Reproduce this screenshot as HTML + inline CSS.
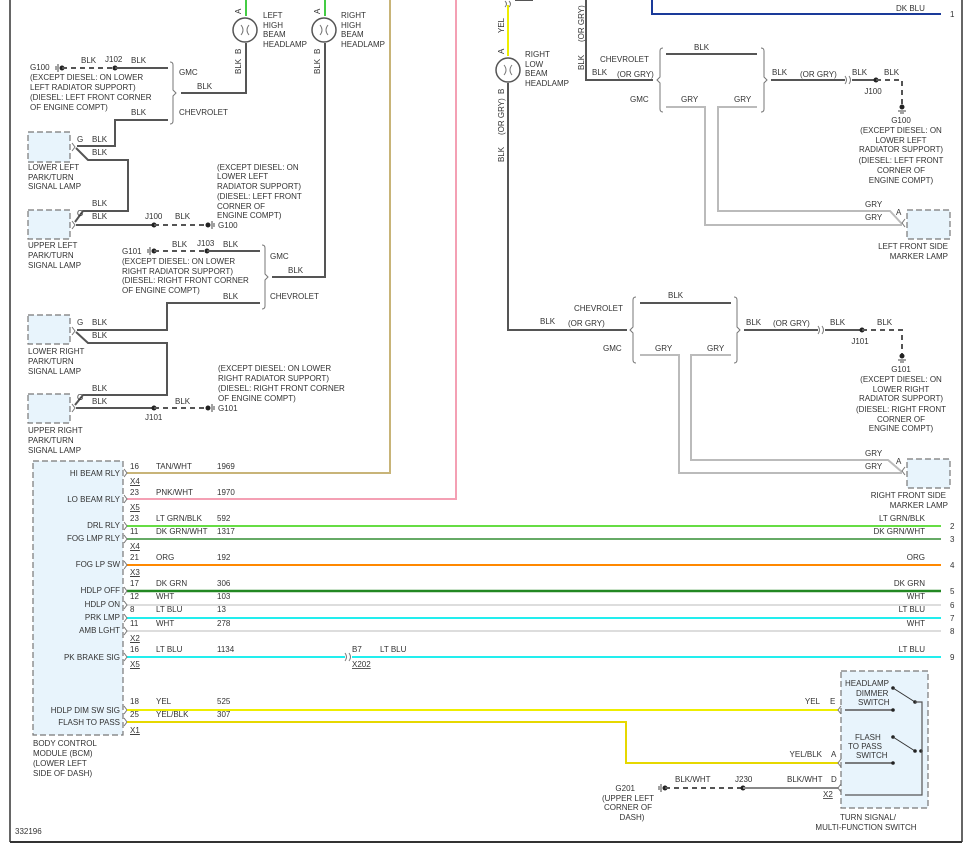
<!DOCTYPE html>
<html><head><meta charset="utf-8"><style>
html,body{margin:0;padding:0;background:#fff;}
svg{display:block;}
text{font-family:"Liberation Sans",sans-serif;font-size:8px;fill:#333;}
.w{fill:none;stroke:#555;stroke-width:2;}
.d{fill:none;stroke:#555;stroke-width:2;stroke-dasharray:5,4;}
.g{fill:none;stroke:#bbb;stroke-width:2;}
.b{fill:none;stroke:#777;stroke-width:1;}
.box{fill:#e8f4fc;stroke:#777;stroke-width:1.2;stroke-dasharray:6,3;}
.r{text-anchor:end;}
.m{text-anchor:middle;}
</style></head><body>
<svg width="967" height="849" viewBox="0 0 967 849" xmlns="http://www.w3.org/2000/svg">
<defs>
<g id="gnd"><circle cx="0" cy="0" r="2.5" fill="#222"/><line x1="-4" y1="-4" x2="-4" y2="4" stroke="#444"/><line x1="-6" y1="-2" x2="-6" y2="2" stroke="#444"/></g>
<g id="gndv"><circle cx="0" cy="0" r="2.5" fill="#222"/><line x1="-4" y1="4" x2="4" y2="4" stroke="#444"/><line x1="-2" y1="6" x2="2" y2="6" stroke="#444"/></g>
</defs>
<!-- frame -->
<line x1="10" y1="0" x2="10" y2="842" stroke="#333" stroke-width="1.5"/>
<line x1="962" y1="0" x2="962" y2="842" stroke="#333" stroke-width="1.5"/>
<line x1="10" y1="842" x2="962" y2="842" stroke="#333" stroke-width="2"/>

<!-- headlamps top left -->
<line x1="246" y1="0" x2="246" y2="16" stroke="#44cc44" stroke-width="2"/>
<line x1="325" y1="0" x2="325" y2="16" stroke="#44cc44" stroke-width="2"/>
<circle cx="245" cy="30" r="12" fill="#fff" stroke="#555" stroke-width="1.5"/>
<circle cx="324" cy="30" r="12" fill="#fff" stroke="#555" stroke-width="1.5"/>
<path d="M241,25 q4,5 0,10 M249,25 q-4,5 0,10" class="b"/>
<path d="M320,25 q4,5 0,10 M328,25 q-4,5 0,10" class="b"/>
<text x="241" y="14" transform="rotate(-90 241 14)">A</text>
<text x="320" y="14" transform="rotate(-90 320 14)">A</text>
<text x="241" y="54" transform="rotate(-90 241 54)">B</text>
<text x="320" y="54" transform="rotate(-90 320 54)">B</text>
<text x="241" y="74" transform="rotate(-90 241 74)">BLK</text>
<text x="320" y="74" transform="rotate(-90 320 74)">BLK</text>
<text x="263" y="18">LEFT</text><text x="263" y="28">HIGH</text><text x="263" y="37">BEAM</text><text x="263" y="47">HEADLAMP</text>
<text x="341" y="18">RIGHT</text><text x="341" y="28">HIGH</text><text x="341" y="37">BEAM</text><text x="341" y="47">HEADLAMP</text>
<polyline class="w" points="246,43 246,93 181,93"/>
<polyline class="w" points="325,43 325,277 272,277"/>
<text x="197" y="89">BLK</text><text x="288" y="273">BLK</text>

<!-- G100/J102 -->
<text x="30" y="70">G100</text>
<use href="#gnd" x="62" y="68"/>
<line class="d" x1="62" y1="68" x2="115" y2="68"/>
<circle cx="115" cy="68" r="2.5" fill="#222"/>
<line class="w" x1="115" y1="68" x2="168" y2="68"/>
<text x="81" y="63">BLK</text><text x="105" y="62">J102</text><text x="131" y="63">BLK</text>
<text x="30" y="80">(EXCEPT DIESEL: ON LOWER</text><text x="30" y="90">LEFT RADIATOR SUPPORT)</text><text x="30" y="100">(DIESEL: LEFT FRONT CORNER</text><text x="30" y="110">OF ENGINE COMPT)</text>
<path class="b" d="M170,62 q3,0 3,3 v25 l3,3 l-3,3 v25 q0,3 -3,3"/>
<text x="179" y="75">GMC</text><text x="179" y="115">CHEVROLET</text>
<text x="131" y="115">BLK</text>
<polyline class="w" points="168,120 115,120 115,146 77,146"/>

<!-- lower left lamp -->
<rect class="box" x="28" y="132" width="42" height="30"/>
<text x="77" y="142">G</text><text x="92" y="142">BLK</text><text x="92" y="155">BLK</text>
<path class="b" d="M72,143 l3,4 l-3,4"/>
<polyline class="w" points="76,148 88,160 128,160 128,211 83,211 75,222"/>
<text x="28" y="170">LOWER LEFT</text><text x="28" y="180">PARK/TURN</text><text x="28" y="189">SIGNAL LAMP</text>
<rect class="box" x="28" y="210" width="42" height="29"/>
<text x="77" y="216">G</text><text x="92" y="206">BLK</text><text x="92" y="219">BLK</text>
<path class="b" d="M72,221 l3,4 l-3,4"/>
<line class="w" x1="76" y1="225" x2="154" y2="225"/>
<circle cx="154" cy="225" r="2.5" fill="#222"/>
<line class="d" x1="154" y1="225" x2="208" y2="225"/>
<use href="#gnd" x="208" y="225" transform="rotate(180 208 225)"/>
<text x="145" y="219">J100</text><text x="175" y="219">BLK</text><text x="218" y="228">G100</text>
<text x="217" y="170">(EXCEPT DIESEL: ON</text><text x="217" y="179">LOWER LEFT</text><text x="217" y="189">RADIATOR SUPPORT)</text><text x="217" y="199">(DIESEL: LEFT FRONT</text><text x="217" y="209">CORNER OF</text><text x="217" y="218">ENGINE COMPT)</text>
<text x="28" y="248">UPPER LEFT</text><text x="28" y="258">PARK/TURN</text><text x="28" y="268">SIGNAL LAMP</text>

<!-- G101/J103 -->
<text x="122" y="254">G101</text>
<use href="#gnd" x="154" y="251"/>
<line class="d" x1="154" y1="251" x2="207" y2="251"/>
<circle cx="207" cy="251" r="2.5" fill="#222"/>
<line class="w" x1="207" y1="251" x2="260" y2="251"/>
<text x="172" y="247">BLK</text><text x="197" y="246">J103</text><text x="223" y="247">BLK</text>
<text x="122" y="264">(EXCEPT DIESEL: ON LOWER</text><text x="122" y="274">RIGHT RADIATOR SUPPORT)</text><text x="122" y="283">(DIESEL: RIGHT FRONT CORNER</text><text x="122" y="293">OF ENGINE COMPT)</text>
<path class="b" d="M262,245 q3,0 3,3 v26 l3,3 l-3,3 v26 q0,3 -3,3"/>
<text x="270" y="259">GMC</text><text x="270" y="299">CHEVROLET</text>
<text x="223" y="299">BLK</text>
<polyline class="w" points="260,303 167,303 167,330 77,330"/>
<rect class="box" x="28" y="315" width="42" height="29"/>
<text x="77" y="325">G</text><text x="92" y="325">BLK</text><text x="92" y="338">BLK</text>
<path class="b" d="M72,327 l3,4 l-3,4"/>
<polyline class="w" points="76,332 88,343 167,343 167,395 83,395 75,405"/>
<text x="28" y="354">LOWER RIGHT</text><text x="28" y="364">PARK/TURN</text><text x="28" y="374">SIGNAL LAMP</text>
<rect class="box" x="28" y="394" width="42" height="29"/>
<text x="77" y="400">G</text><text x="92" y="391">BLK</text><text x="92" y="404">BLK</text>
<path class="b" d="M72,404 l3,4 l-3,4"/>
<line class="w" x1="76" y1="408" x2="154" y2="408"/>
<circle cx="154" cy="408" r="2.5" fill="#222"/>
<line class="d" x1="154" y1="408" x2="208" y2="408"/>
<use href="#gnd" x="208" y="408" transform="rotate(180 208 408)"/>
<text x="175" y="404">BLK</text><text x="145" y="420">J101</text><text x="218" y="411">G101</text>
<text x="218" y="371">(EXCEPT DIESEL: ON LOWER</text><text x="218" y="381">RIGHT RADIATOR SUPPORT)</text><text x="218" y="391">(DIESEL: RIGHT FRONT CORNER</text><text x="218" y="401">OF ENGINE COMPT)</text>
<text x="28" y="433">UPPER RIGHT</text><text x="28" y="443">PARK/TURN</text><text x="28" y="453">SIGNAL LAMP</text>

<!-- right section -->
<line x1="508" y1="5" x2="508" y2="56" stroke="#eeee00" stroke-width="2"/>
<path class="b" d="M505,1 q3,3 0,6 M509,1 q3,3 0,6"/>
<line x1="515" y1="0" x2="533" y2="0" stroke="#555" stroke-width="2"/>
<text x="504" y="33" transform="rotate(-90 504 33)">YEL</text>
<text x="504" y="54" transform="rotate(-90 504 54)">A</text>
<circle cx="508" cy="70" r="12" fill="#fff" stroke="#555" stroke-width="1.5"/>
<path d="M504,65 q4,5 0,10 M512,65 q-4,5 0,10" class="b"/>
<text x="525" y="57">RIGHT</text><text x="525" y="67">LOW</text><text x="525" y="76">BEAM</text><text x="525" y="86">HEADLAMP</text>
<text x="504" y="94" transform="rotate(-90 504 94)">B</text>
<text x="504" y="135" transform="rotate(-90 504 135)">(OR GRY)</text>
<text x="504" y="162" transform="rotate(-90 504 162)">BLK</text>
<polyline class="w" points="508,83 508,330 627,330"/>
<text x="584" y="42" transform="rotate(-90 584 42)">(OR GRY)</text>
<text x="584" y="70" transform="rotate(-90 584 70)">BLK</text>
<polyline class="w" points="586,0 586,80 653,80"/>
<polyline points="652,0 652,14 941,14" fill="none" stroke="#1a3a99" stroke-width="2"/>
<text x="896" y="11">DK BLU</text><text x="950" y="17">1</text>
<text x="600" y="62">CHEVROLET</text><text x="592" y="75">BLK</text><text x="617" y="77">(OR GRY)</text><text x="630" y="102">GMC</text>
<path class="b" d="M663,48 q-3,0 -3,3 v26 l-3,3 l3,3 v26 q0,3 3,3"/>
<path class="b" d="M761,48 q3,0 3,3 v26 l3,3 l-3,3 v26 q0,3 -3,3"/>
<line class="w" x1="666" y1="54" x2="757" y2="54"/>
<text x="694" y="50">BLK</text><text x="681" y="102">GRY</text><text x="734" y="102">GRY</text>
<polyline class="g" points="666,107 705,107 705,225 902,225"/>
<polyline class="g" points="757,107 718,107 718,211 890,211 902,224"/>
<line class="w" x1="771" y1="80" x2="845" y2="80"/>
<path class="b" d="M845,76 q3,4 0,8 M849,76 q3,4 0,8"/>
<line class="w" x1="852" y1="80" x2="876" y2="80"/>
<circle cx="876" cy="80" r="2.5" fill="#222"/>
<polyline class="d" points="876,80 902,80 902,107"/>
<use href="#gndv" x="902" y="107"/>
<text x="772" y="75">BLK</text><text x="800" y="77">(OR GRY)</text><text x="852" y="75">BLK</text><text x="884" y="75">BLK</text><text x="873" y="94" class="m">J100</text>
<g class="m"><text x="901" y="123" class="m">G100</text><text x="901" y="133" class="m">(EXCEPT DIESEL: ON</text><text x="901" y="143" class="m">LOWER LEFT</text><text x="901" y="152" class="m">RADIATOR SUPPORT)</text><text x="901" y="163" class="m">(DIESEL: LEFT FRONT</text><text x="901" y="173" class="m">CORNER OF</text><text x="901" y="183" class="m">ENGINE COMPT)</text></g>
<text x="865" y="207">GRY</text><text x="865" y="220">GRY</text><text x="896" y="215">A</text>
<path class="b" d="M905,219 l-3,4 l3,4"/>
<rect class="box" x="907" y="210" width="43" height="29"/>
<text x="948" y="249" class="r">LEFT FRONT SIDE</text><text x="948" y="259" class="r">MARKER LAMP</text>

<text x="574" y="311">CHEVROLET</text><text x="540" y="324">BLK</text><text x="568" y="326">(OR GRY)</text><text x="603" y="351">GMC</text>
<path class="b" d="M636,297 q-3,0 -3,3 v27 l-3,3 l3,3 v27 q0,3 3,3"/>
<path class="b" d="M734,297 q3,0 3,3 v27 l3,3 l-3,3 v27 q0,3 -3,3"/>
<line class="w" x1="640" y1="303" x2="731" y2="303"/>
<text x="668" y="298">BLK</text><text x="655" y="351">GRY</text><text x="707" y="351">GRY</text>
<polyline class="g" points="640,355 679,355 679,473 902,473"/>
<polyline class="g" points="731,355 691,355 691,460 888,460 902,472"/>
<line class="w" x1="744" y1="330" x2="818" y2="330"/>
<path class="b" d="M818,326 q3,4 0,8 M822,326 q3,4 0,8"/>
<line class="w" x1="825" y1="330" x2="862" y2="330"/>
<circle cx="862" cy="330" r="2.5" fill="#222"/>
<polyline class="d" points="862,330 902,330 902,356"/>
<use href="#gndv" x="902" y="356"/>
<text x="746" y="325">BLK</text><text x="773" y="326">(OR GRY)</text><text x="830" y="325">BLK</text><text x="877" y="325">BLK</text><text x="860" y="344" class="m">J101</text>
<text x="901" y="372" class="m">G101</text><text x="901" y="382" class="m">(EXCEPT DIESEL: ON</text><text x="901" y="392" class="m">LOWER RIGHT</text><text x="901" y="401" class="m">RADIATOR SUPPORT)</text><text x="901" y="412" class="m">(DIESEL: RIGHT FRONT</text><text x="901" y="422" class="m">CORNER OF</text><text x="901" y="431" class="m">ENGINE COMPT)</text>
<text x="865" y="456">GRY</text><text x="865" y="469">GRY</text><text x="896" y="464">A</text>
<path class="b" d="M905,467 l-3,4 l3,4"/>
<rect class="box" x="907" y="459" width="43" height="29"/>
<text x="946" y="498" class="r">RIGHT FRONT SIDE</text><text x="948" y="508" class="r">MARKER LAMP</text>

<!-- vertical colored to BCM -->
<polyline points="390,0 390,473 127,473" fill="none" stroke="#c8b478" stroke-width="2"/>
<polyline points="456,0 456,499 127,499" fill="none" stroke="#f4a0b4" stroke-width="2"/>

<!-- BCM -->
<rect class="box" x="33" y="461" width="90" height="274"/>
<g class="r">
<text x="120" y="476" class="r">HI BEAM RLY</text><text x="120" y="502" class="r">LO BEAM RLY</text><text x="120" y="528" class="r">DRL RLY</text><text x="120" y="541" class="r">FOG LMP RLY</text><text x="120" y="567" class="r">FOG LP SW</text><text x="120" y="593" class="r">HDLP OFF</text><text x="120" y="607" class="r">HDLP ON</text><text x="120" y="620" class="r">PRK LMP</text><text x="120" y="633" class="r">AMB LGHT</text><text x="120" y="660" class="r">PK BRAKE SIG</text><text x="120" y="713" class="r">HDLP DIM SW SIG</text><text x="120" y="725" class="r">FLASH TO PASS</text>
</g>
<text x="33" y="746">BODY CONTROL</text><text x="33" y="756">MODULE (BCM)</text><text x="33" y="766">(LOWER LEFT</text><text x="33" y="776">SIDE OF DASH)</text>
<g text-decoration="underline"><text x="130" y="484" text-decoration="underline">X4</text><text x="130" y="510" text-decoration="underline">X5</text><text x="130" y="549" text-decoration="underline">X4</text><text x="130" y="575" text-decoration="underline">X3</text><text x="130" y="641" text-decoration="underline">X2</text><text x="130" y="667" text-decoration="underline">X5</text><text x="130" y="733" text-decoration="underline">X1</text></g>

<text x="130" y="469">16</text><text x="156" y="469">TAN/WHT</text><text x="217" y="469">1969</text>
<text x="130" y="495">23</text><text x="156" y="495">PNK/WHT</text><text x="217" y="495">1970</text>
<text x="130" y="521">23</text><text x="156" y="521">LT GRN/BLK</text><text x="217" y="521">592</text>
<text x="130" y="534">11</text><text x="156" y="534">DK GRN/WHT</text><text x="217" y="534">1317</text>
<text x="130" y="560">21</text><text x="156" y="560">ORG</text><text x="217" y="560">192</text>
<text x="130" y="586">17</text><text x="156" y="586">DK GRN</text><text x="217" y="586">306</text>
<text x="130" y="599">12</text><text x="156" y="599">WHT</text><text x="217" y="599">103</text>
<text x="130" y="612">8</text><text x="156" y="612">LT BLU</text><text x="217" y="612">13</text>
<text x="130" y="626">11</text><text x="156" y="626">WHT</text><text x="217" y="626">278</text>
<text x="130" y="652">16</text><text x="156" y="652">LT BLU</text><text x="217" y="652">1134</text>
<text x="130" y="704">18</text><text x="156" y="704">YEL</text><text x="217" y="704">525</text>
<text x="130" y="717">25</text><text x="156" y="717">YEL/BLK</text><text x="217" y="717">307</text>

<line x1="127" y1="526" x2="941" y2="526" stroke="#66dd44" stroke-width="2"/>
<line x1="127" y1="539" x2="941" y2="539" stroke="#66aa66" stroke-width="2"/>
<line x1="127" y1="565" x2="941" y2="565" stroke="#ff8800" stroke-width="2"/>
<line x1="127" y1="591" x2="941" y2="591" stroke="#228822" stroke-width="2.5"/>
<line x1="127" y1="605" x2="941" y2="605" stroke="#dddddd" stroke-width="2"/>
<line x1="127" y1="618" x2="941" y2="618" stroke="#22eeee" stroke-width="2"/>
<line x1="127" y1="631" x2="941" y2="631" stroke="#dddddd" stroke-width="2"/>
<line x1="127" y1="657" x2="345" y2="657" stroke="#22eeee" stroke-width="2"/>
<path class="b" d="M345,653 q3,4 0,8 M349,653 q3,4 0,8"/>
<line x1="352" y1="657" x2="941" y2="657" stroke="#22eeee" stroke-width="2"/>
<text x="352" y="652">B7</text><text x="380" y="652">LT BLU</text><text x="352" y="667" text-decoration="underline">X202</text>
<text x="925" y="521" class="r">LT GRN/BLK</text><text x="925" y="534" class="r">DK GRN/WHT</text><text x="925" y="560" class="r">ORG</text><text x="925" y="586" class="r">DK GRN</text><text x="925" y="599" class="r">WHT</text><text x="925" y="612" class="r">LT BLU</text><text x="925" y="626" class="r">WHT</text><text x="925" y="652" class="r">LT BLU</text>
<text x="950" y="529">2</text><text x="950" y="542">3</text><text x="950" y="568">4</text><text x="950" y="594">5</text><text x="950" y="608">6</text><text x="950" y="621">7</text><text x="950" y="634">8</text><text x="950" y="660">9</text>
<g class="b"><path d="M124,469 l3,4 l-3,4 M124,495 l3,4 l-3,4 M124,522 l3,4 l-3,4 M124,535 l3,4 l-3,4 M124,561 l3,4 l-3,4 M124,587 l3,4 l-3,4 M124,601 l3,4 l-3,4 M124,614 l3,4 l-3,4 M124,627 l3,4 l-3,4 M124,653 l3,4 l-3,4 M124,706 l3,4 l-3,4 M124,718 l3,4 l-3,4"/></g>

<line x1="127" y1="710" x2="838" y2="710" stroke="#eeee00" stroke-width="2"/>
<polyline points="127,722 626,722 626,763 838,763" fill="none" stroke="#e6d800" stroke-width="2"/>
<text x="820" y="704" class="r">YEL</text><text x="830" y="704">E</text>
<text x="822" y="757" class="r">YEL/BLK</text><text x="831" y="757">A</text>
<text x="635" y="791" class="r">G201</text>
<use href="#gnd" x="665" y="788"/>
<line class="d" x1="665" y1="788" x2="743" y2="788"/>
<circle cx="743" cy="788" r="2.5" fill="#222"/>
<line x1="743" y1="788" x2="838" y2="788" stroke="#888" stroke-width="2"/>
<text x="675" y="782">BLK/WHT</text><text x="735" y="782">J230</text><text x="787" y="782">BLK/WHT</text><text x="831" y="782">D</text><text x="823" y="797" text-decoration="underline">X2</text>
<text x="628" y="801" class="m">(UPPER LEFT</text><text x="628" y="810" class="m">CORNER OF</text><text x="632" y="820" class="m">DASH)</text>

<rect class="box" x="841" y="671" width="87" height="137"/>
<g class="b"><path d="M841,706 l-3,4 l3,4 M841,759 l-3,4 l3,4 M841,784 l-3,4 l3,4"/></g>
<text x="845" y="686">HEADLAMP</text><text x="856" y="696">DIMMER</text><text x="858" y="705">SWITCH</text>
<circle cx="893" cy="688" r="1.8" fill="#222"/><line x1="893" y1="688" x2="915" y2="702" stroke="#333"/><circle cx="915" cy="702" r="1.8" fill="#222"/>
<line x1="845" y1="710" x2="893" y2="710" stroke="#555" stroke-width="1.5"/><circle cx="893" cy="710" r="1.8" fill="#222"/>
<text x="855" y="740">FLASH</text><text x="848" y="749">TO PASS</text><text x="856" y="758">SWITCH</text>
<circle cx="893" cy="737" r="1.8" fill="#222"/><line x1="893" y1="737" x2="915" y2="751" stroke="#333"/><circle cx="915" cy="751" r="1.8" fill="#222"/><circle cx="921" cy="751" r="1.8" fill="#222"/>
<line x1="845" y1="763" x2="893" y2="763" stroke="#555" stroke-width="1.5"/><circle cx="893" cy="763" r="1.8" fill="#222"/>
<polyline points="915,702 922,702 922,795 845,795" fill="none" stroke="#555" stroke-width="1.2"/>
<text x="868" y="820" class="m">TURN SIGNAL/</text><text x="866" y="830" class="m">MULTI-FUNCTION SWITCH</text>
<text x="15" y="834">332196</text>
</svg>
</body></html>
